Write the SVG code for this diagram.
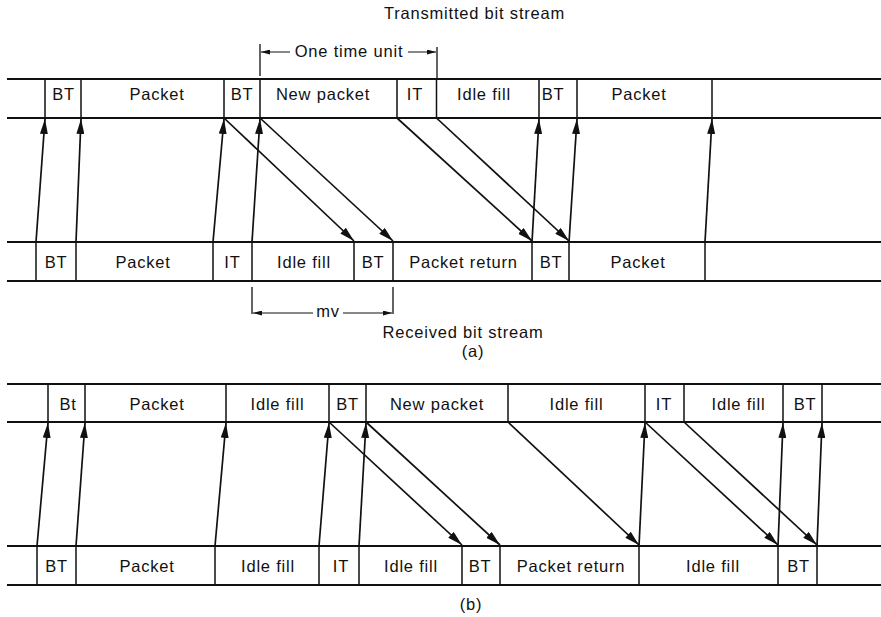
<svg xmlns="http://www.w3.org/2000/svg" width="881" height="617" viewBox="0 0 881 617">
<defs>
<style>
text{font-family:"Liberation Sans",Arial,sans-serif;font-size:16.5px;letter-spacing:0.8px;fill:#111;text-anchor:middle}
.s{stroke:#111;stroke-width:2;fill:none}
.d{stroke:#111;stroke-width:1.5;fill:none}
.c{stroke:#111;stroke-width:1.7;fill:none;marker-end:url(#ah)}
.b{stroke:#111;stroke-width:1;fill:none;marker-end:url(#sh)}
.t{stroke:#111;stroke-width:1.3;fill:none}
</style>
<marker id="ah" viewBox="0 0 15 8" refX="15" refY="4" markerWidth="15" markerHeight="8" markerUnits="userSpaceOnUse" orient="auto">
<path d="M0,0 L15,4 L0,8 Z" fill="#111"/>
</marker>
<marker id="sh" viewBox="0 0 9 5" refX="9" refY="2.5" markerWidth="9" markerHeight="5" markerUnits="userSpaceOnUse" orient="auto">
<path d="M0,0 L9,2.5 L0,5 Z" fill="#111"/>
</marker>
</defs>
<rect width="881" height="617" fill="#fff"/>

<!-- Part (a) -->
<g id="a-top-stream">
<line class="s" x1="7" y1="79" x2="881" y2="79"/>
<line class="s" x1="7" y1="118" x2="881" y2="118"/>
<path class="d" d="M45,79V118 M81,79V118 M224,79V118 M260,79V118 M397,79V118 M436.5,79V118 M539,79V118 M577,79V118 M712,79V118"/>
</g>
<g id="a-t1"><text x="63.5" y="99.5">BT</text></g>
<g id="a-t2"><text x="157" y="99.5">Packet</text></g>
<g id="a-t3"><text x="242" y="99.5">BT</text></g>
<g id="a-t4"><text x="323" y="99.5">New packet</text></g>
<g id="a-t5"><text x="415" y="99.5">IT</text></g>
<g id="a-t6"><text x="484" y="99.5">Idle fill</text></g>
<g id="a-t7"><text x="553" y="99.5">BT</text></g>
<g id="a-t8"><text x="639" y="99.5">Packet</text></g>

<g id="a-bottom-stream">
<line class="s" x1="7" y1="242" x2="881" y2="242"/>
<line class="s" x1="7" y1="281" x2="881" y2="281"/>
<path class="d" d="M36,242V281 M76,242V281 M213,242V281 M252,242V281 M354,242V281 M393,242V281 M532,242V281 M569,242V281 M705,242V281"/>
</g>
<g id="a-b1"><text x="56" y="268">BT</text></g>
<g id="a-b2"><text x="143" y="268">Packet</text></g>
<g id="a-b3"><text x="232.5" y="268">IT</text></g>
<g id="a-b4"><text x="304" y="268">Idle fill</text></g>
<g id="a-b5"><text x="373" y="268">BT</text></g>
<g id="a-b6"><text x="463.5" y="268">Packet return</text></g>
<g id="a-b7"><text x="551" y="268">BT</text></g>
<g id="a-b8"><text x="638" y="268">Packet</text></g>

<g id="a-labels">
<text x="474.5" y="19">Transmitted bit stream</text>
<text x="349" y="57">One time unit</text>
<text x="328" y="317">mv</text>
<text x="463" y="338">Received bit stream</text>
<text x="473" y="357">(a)</text>
</g>
<g id="a-brackets">
<path class="t" d="M260,44V76 M437,47V79 M252,287V314 M393,287V314"/>
<line class="b" x1="290" y1="52" x2="261" y2="52"/>
<line class="b" x1="408" y1="52" x2="436" y2="52"/>
<line class="b" x1="313" y1="313" x2="253" y2="313"/>
<line class="b" x1="343" y1="313" x2="392" y2="313"/>
</g>

<g id="a-connectors">
<line class="c" x1="36" y1="242" x2="45" y2="119"/>
<line class="c" x1="76" y1="242" x2="81" y2="119"/>
<line class="c" x1="213" y1="242" x2="224" y2="119"/>
<line class="c" x1="252" y1="242" x2="260" y2="119"/>
<line class="c" x1="532" y1="242" x2="539" y2="119"/>
<line class="c" x1="569" y1="242" x2="577" y2="119"/>
<line class="c" x1="705" y1="242" x2="712" y2="119"/>
<line class="c" x1="224" y1="118" x2="354" y2="241"/>
<line class="c" x1="260" y1="118" x2="393" y2="241"/>
<line class="c" x1="397" y1="118" x2="532" y2="241"/>
<line class="c" x1="436.5" y1="118" x2="569" y2="241"/>
</g>

<!-- Part (b) -->
<g id="b-top-stream">
<line class="s" x1="7" y1="384" x2="881" y2="384"/>
<line class="s" x1="7" y1="422" x2="881" y2="422"/>
<path class="d" d="M48,384V422 M85,384V422 M226,384V422 M329,384V422 M366,384V422 M508,384V422 M645,384V422 M684,384V422 M783,384V422 M822,384V422"/>
</g>
<g id="b-t1"><text x="68" y="409.5">Bt</text></g>
<g id="b-t2"><text x="157" y="409.5">Packet</text></g>
<g id="b-t3"><text x="277.5" y="409.5">Idle fill</text></g>
<g id="b-t4"><text x="347.5" y="409.5">BT</text></g>
<g id="b-t5"><text x="437" y="409.5">New packet</text></g>
<g id="b-t6"><text x="576.5" y="409.5">Idle fill</text></g>
<g id="b-t7"><text x="664" y="409.5">IT</text></g>
<g id="b-t8"><text x="738.5" y="409.5">Idle fill</text></g>
<g id="b-t9"><text x="805" y="409.5">BT</text></g>

<g id="b-bottom-stream">
<line class="s" x1="7" y1="546" x2="881" y2="546"/>
<line class="s" x1="7" y1="585" x2="881" y2="585"/>
<path class="d" d="M37,546V585 M76,546V585 M215,546V585 M319,546V585 M359,546V585 M462,546V585 M500,546V585 M639,546V585 M778,546V585 M817,546V585"/>
</g>
<g id="b-b1"><text x="56.5" y="571.5">BT</text></g>
<g id="b-b2"><text x="147" y="571.5">Packet</text></g>
<g id="b-b3"><text x="268" y="571.5">Idle fill</text></g>
<g id="b-b4"><text x="341" y="571.5">IT</text></g>
<g id="b-b5"><text x="411" y="571.5">Idle fill</text></g>
<g id="b-b6"><text x="480" y="571.5">BT</text></g>
<g id="b-b7"><text x="571" y="571.5">Packet return</text></g>
<g id="b-b8"><text x="713" y="571.5">Idle fill</text></g>
<g id="b-b9"><text x="798.5" y="571.5">BT</text></g>

<g id="b-labels">
<text x="471" y="610">(b)</text>
</g>

<g id="b-connectors">
<line class="c" x1="37" y1="546" x2="48" y2="423"/>
<line class="c" x1="76" y1="546" x2="85" y2="423"/>
<line class="c" x1="215" y1="546" x2="226" y2="423"/>
<line class="c" x1="319" y1="546" x2="329" y2="423"/>
<line class="c" x1="359" y1="546" x2="366" y2="423"/>
<line class="c" x1="639" y1="546" x2="645" y2="423"/>
<line class="c" x1="778" y1="546" x2="783" y2="423"/>
<line class="c" x1="817" y1="546" x2="822" y2="423"/>
<line class="c" x1="329" y1="422" x2="462" y2="545"/>
<line class="c" x1="366" y1="422" x2="500" y2="545"/>
<line class="c" x1="508" y1="422" x2="639" y2="545"/>
<line class="c" x1="645" y1="422" x2="778" y2="545"/>
<line class="c" x1="684" y1="422" x2="817" y2="545"/>
</g>
</svg>
